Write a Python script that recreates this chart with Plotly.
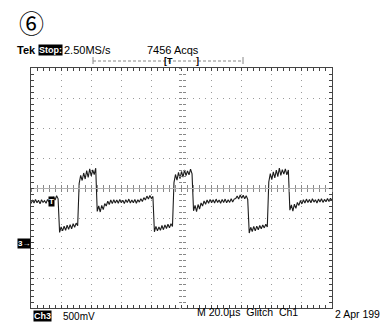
import plotly.graph_objects as go

# Channel 3 acquisition: one sample per microsecond, in screen divisions (500 mV/div)
sample_time_us = list(range(-100, 101))
ch3_div = [
    # idle level
    -0.52, -0.40, -0.50, -0.38, -0.49, -0.41, -0.53, -0.39, -0.48, -0.42,
    -0.51, -0.38, -0.47, -0.35, -0.44, -0.30, -0.40, -0.26, -0.36,
    # glitch low
    -1.48, -1.30, -1.43, -1.27, -1.41, -1.24, -1.38, -1.22, -1.36, -1.19,
    -1.31, -1.17, -1.26,
    # glitch high
    0.15, 0.42, 0.25, 0.50, 0.30, 0.58, 0.35, 0.64, 0.40, 0.60, 0.45, 0.66,
    # undershoot and idle
    -0.78, -0.60, -0.80, -0.58, -0.72, -0.52, -0.60, -0.44, -0.55, -0.40,
    -0.52, -0.39, -0.50, -0.40, -0.51, -0.38, -0.49, -0.41, -0.52, -0.39,
    -0.48, -0.37, -0.50, -0.40, -0.49, -0.38, -0.51, -0.39, -0.47, -0.36,
    -0.45, -0.32, -0.40, -0.27, -0.37, -0.25, -0.35, -0.28,
    # glitch low
    -1.46, -1.28, -1.43, -1.30, -1.41, -1.25, -1.39, -1.23, -1.35, -1.21,
    -1.33, -1.19, -1.28,
    # glitch high
    0.18, 0.45, 0.26, 0.52, 0.31, 0.55, 0.36, 0.60, 0.41, 0.57, 0.44, 0.63,
    0.47,
    # undershoot and idle
    -0.76, -0.58, -0.79, -0.55, -0.70, -0.50, -0.60, -0.43, -0.54, -0.40,
    -0.51, -0.38, -0.49, -0.39, -0.50, -0.37, -0.48, -0.40, -0.51, -0.38,
    -0.48, -0.37, -0.49, -0.39, -0.48, -0.36, -0.47, -0.37, -0.35, -0.27,
    -0.37, -0.23, -0.34, -0.24, -0.36, -0.26, -0.38,
    # glitch low
    -1.50, -1.31, -1.45, -1.28, -1.43, -1.27, -1.39, -1.25, -1.36, -1.23,
    -1.33, -1.21, -1.30,
    # glitch high
    0.20, 0.48, 0.28, 0.54, 0.34, 0.60, 0.38, 0.66, 0.42, 0.61, 0.46, 0.64,
    0.44, 0.60,
    # undershoot and idle
    -0.74, -0.56, -0.77, -0.54, -0.68, -0.48, -0.58, -0.42, -0.53, -0.39,
    -0.50, -0.37, -0.48, -0.38, -0.49, -0.36, -0.47, -0.39, -0.50, -0.37,
    -0.47, -0.36, -0.48, -0.38, -0.46, -0.35, -0.45, -0.34, -0.42,
]

time_range_us = [-100, 100]      # 10 divisions at 20 us/div
volt_range_div = [-4, 4]         # 8 vertical divisions

W, H = 380, 322
L, R, T, B = 31, 48, 68, 14
PW, PH = W - L - R, H - T - B


def px(x):
    return (x - L) / PW


def py(y):
    return (H - B - y) / PH


FONT = "Liberation Sans, Arial, sans-serif"
GRID = "#9a9a9a"
FRAME = "#444444"

fig = go.Figure()
fig.add_trace(go.Scatter(
    x=sample_time_us, y=ch3_div, mode="lines",
    line=dict(color="#1c1c1c", width=1.1), hoverinfo="skip", showlegend=False,
))
# empty traces so the centre-cross axes get drawn
for k in (2, 3):
    fig.add_trace(go.Scatter(x=[], y=[], xaxis=f"x{k}", yaxis=f"y{k}",
                             hoverinfo="skip", showlegend=False))

frame_axis = dict(
    showgrid=True, gridcolor=GRID, gridwidth=1, griddash="1px,5px",
    showline=True, linecolor=FRAME, linewidth=1, mirror="ticks",
    ticks="inside", ticklen=3, tickcolor=FRAME, showticklabels=False,
    zeroline=False, fixedrange=True,
)
fig.update_layout(
    width=W, height=H, margin=dict(l=L, r=R, t=T, b=B, pad=0),
    paper_bgcolor="white", plot_bgcolor="white",
    xaxis=dict(range=time_range_us, dtick=20,
               minor=dict(dtick=4, ticks="inside", ticklen=3, tickcolor=FRAME),
               **frame_axis),
    yaxis=dict(range=volt_range_div, dtick=1,
               minor=dict(dtick=0.2, ticks="inside", ticklen=3, tickcolor=FRAME),
               **frame_axis),
)

# centre cross: two overlaid axes each, ticks on either side give crossing marks
for k, side in ((2, "inside"), (3, "outside")):
    fig.layout[f"xaxis{k}"] = dict(
        overlaying="x", anchor="free", position=0.5, range=time_range_us,
        showgrid=False, zeroline=False, showticklabels=False,
        showline=(k == 2), linecolor="#b0b0b0", linewidth=1,
        ticks=side, ticklen=3, tickcolor="#888888", dtick=20,
        minor=dict(dtick=4, ticks=side, ticklen=3, tickcolor="#888888"),
        fixedrange=True,
    )
    fig.layout[f"yaxis{k}"] = dict(
        overlaying="y", anchor="free", position=0.5, range=volt_range_div,
        showgrid=False, zeroline=False, showticklabels=False,
        showline=False, ticks=side, ticklen=3, tickcolor="#888888", dtick=1,
        minor=dict(dtick=0.2, ticks=side, ticklen=3, tickcolor="#888888"),
        fixedrange=True,
    )


def label(text, x, y, size=11, bold=False, color="black", bg=None,
          xanchor="left", family=FONT):
    fig.add_annotation(
        text=f"<b>{text}</b>" if bold else text,
        x=px(x), y=py(y), xref="paper", yref="paper",
        xanchor=xanchor, yanchor="middle", showarrow=False,
        font=dict(family=family, size=size, color=color),
        bgcolor=bg, borderpad=0,
    )


label("⑥", 31, 22, size=25, xanchor="center",
      family="Noto Sans CJK JP, DejaVu Sans, sans-serif")
label("Tek", 16, 50, bold=True)
label("Stop:", 38, 50, size=9, bold=True, color="white", bg="black")
label("2.50MS/s", 63, 50)
label("7456 Acqs", 146, 50)

# record-window bar with the trigger point and visible span
fig.add_shape(type="line", xref="paper", yref="paper",
              x0=px(93), x1=px(243), y0=py(61), y1=py(61),
              line=dict(color="#888888", width=1, dash="3px,2px"))
for xe in (93, 243):
    fig.add_shape(type="line", xref="paper", yref="paper",
                  x0=px(xe), x1=px(xe), y0=py(57), y1=py(64),
                  line=dict(color="#888888", width=1))
label("[T", 163, 61, size=9, bold=True)
label("]", 195, 61, size=9, bold=True)

# trigger level and channel ground markers
label("T", 51, 201, size=8, bold=True, color="white", bg="black",
      xanchor="center")
label("3→", 31, 243, size=8, bold=True, color="white", bg="black",
      xanchor="right")

label("M 20.0µs  Glitch  Ch1", 196, 312, size=10.5)
label("2 Apr 199", 334, 314, size=10.5)
label("Ch3", 33, 316, size=9, bold=True, color="white", bg="black")
label("500mV", 62, 316, size=10)

fig.write_html("out.html")
